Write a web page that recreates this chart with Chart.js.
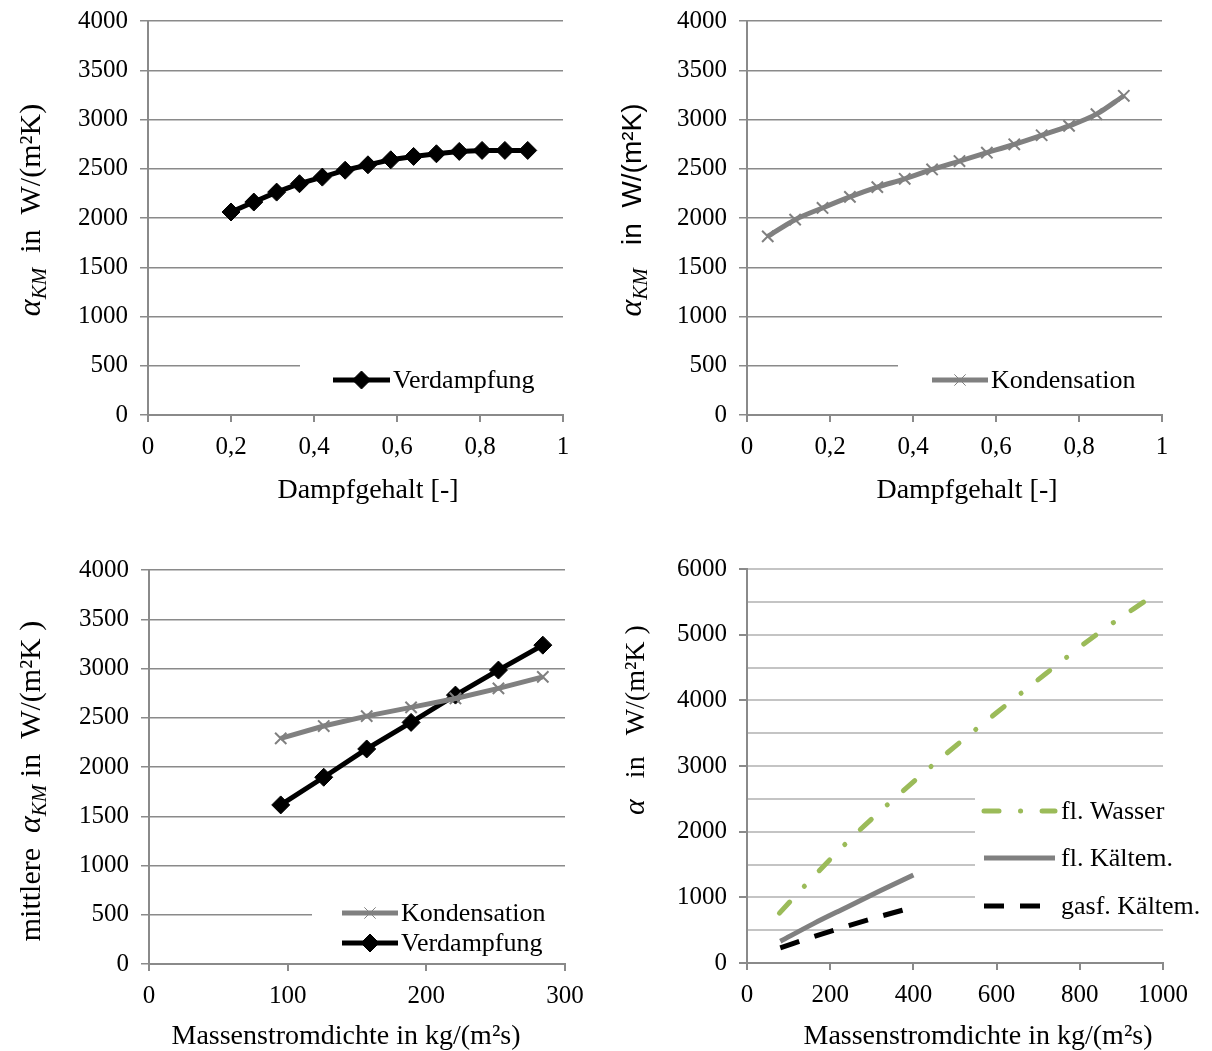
<!DOCTYPE html>
<html>
<head>
<meta charset="utf-8">
<script src="https://cdn.jsdelivr.net/npm/chart.js@4.4.1/dist/chart.umd.min.js"></script>
<style>
  html, body { margin: 0; padding: 0; background: #fff; }
  #wrap { position: relative; width: 1212px; height: 1051px; overflow: hidden; }
  canvas { position: absolute; }
</style>
</head>
<body>
<div id="wrap">
  <canvas id="c1" width="606" height="531" style="left:0;top:-6px"></canvas>
  <canvas id="c2" width="606" height="531" style="left:606px;top:-6px"></canvas>
  <canvas id="c3" width="606" height="526" style="left:0;top:525px"></canvas>
  <canvas id="c4" width="606" height="526" style="left:606px;top:525px"></canvas>
</div>
<script>
// oben links: Verdampfung ueber Dampfgehalt
const dampf1 = [0.2, 0.255, 0.31, 0.365, 0.42, 0.475, 0.53, 0.585, 0.64, 0.695, 0.75, 0.805, 0.86, 0.915];
const verdampfung1 = [2061, 2162, 2263, 2348, 2415, 2485, 2540, 2591, 2625, 2652, 2676, 2686, 2686, 2686];

// oben rechts: Kondensation ueber Dampfgehalt
const dampf2 = [0.05, 0.116, 0.182, 0.248, 0.314, 0.38, 0.446, 0.512, 0.578, 0.644, 0.71, 0.776, 0.842, 0.908];
const kondensation2 = [1813, 1983, 2102, 2214, 2313, 2398, 2493, 2578, 2663, 2748, 2840, 2935, 3054, 3241];

// unten links: mittlere alpha ueber Massenstromdichte
const massenstrom3 = [95, 126, 157, 189, 221, 252, 284];
const kondensation3 = [2291, 2416, 2517, 2605, 2696, 2798, 2915];
const verdampfung3 = [1615, 1896, 2183, 2453, 2730, 2984, 3237];

// unten rechts: Wasser / Kaeltemittel
const wasserX = [78, 145, 252, 364, 480, 599, 718, 838, 975];
const flWasser = [760, 1216, 1910, 2559, 3193, 3806, 4404, 4992, 5590];
const kaeltemX = [80, 160, 240, 320, 400];
const flKaeltem = [330, 600, 850, 1100, 1340];
const gasfKaeltem = [230, 400, 560, 710, 850];

const serif = 'Liberation Serif';
const gridGray = '#8a8a8a';

function pts(xs, ys) {
  return xs.map((x, i) => ({ x: x, y: ys[i] }));
}

// titles + legend drawn by hand (mixed fonts, rotated)
function makeDecor(cfg) {
  return {
    id: 'decor',
    afterDraw(chart) {
      const ctx = chart.ctx;
      // legend box
      const lg = cfg.legend;
      ctx.save();
      ctx.fillStyle = '#fff';
      ctx.fillRect(lg.box[0], lg.box[1], lg.box[2], lg.box[3]);
      lg.items.forEach((it, i) => {
        const ds = chart.data.datasets[it.ds];
        const y = lg.y[i];
        ctx.save();
        ctx.strokeStyle = ds.borderColor;
        ctx.lineWidth = ds.borderWidth;
        ctx.lineCap = ds.borderCapStyle || 'butt';
        ctx.setLineDash(ds.borderDash || []);
        ctx.beginPath();
        ctx.moveTo(lg.x1, y);
        ctx.lineTo(lg.x2, y);
        ctx.stroke();
        ctx.restore();
        if (ds.pointRadius > 0) {
          ctx.save();
          ctx.fillStyle = ds.pointBackgroundColor;
          ctx.strokeStyle = ds.pointBorderColor;
          Chart.helpers.drawPoint(ctx, {
            pointStyle: ds.pointStyle, radius: ds.pointRadius,
            borderWidth: ds.pointBorderWidth, rotation: 0
          }, (lg.x1 + lg.x2) / 2, y);
          ctx.restore();
        }
        ctx.fillStyle = '#000';
        ctx.font = '26px "' + serif + '"';
        ctx.textBaseline = 'middle';
        ctx.textAlign = 'left';
        ctx.fillText(ds.label, lg.tx, y + 1);
      });
      ctx.restore();

      // x title
      ctx.save();
      ctx.fillStyle = '#000';
      ctx.font = '28px "' + serif + '"';
      ctx.textAlign = 'center';
      ctx.textBaseline = 'alphabetic';
      ctx.fillText(cfg.xTitle, cfg.xTitlePos[0], cfg.xTitlePos[1]);
      ctx.restore();

      // y title (rotated, pieces with own fonts)
      ctx.save();
      ctx.fillStyle = '#000';
      ctx.translate(cfg.yTitlePos[0], cfg.yTitlePos[1]);
      ctx.rotate(-Math.PI / 2);
      ctx.textBaseline = 'alphabetic';
      ctx.textAlign = 'left';
      let total = 0;
      cfg.yTitle.forEach(p => { ctx.font = p.font; total += ctx.measureText(p.t).width; });
      let px = -total / 2;
      cfg.yTitle.forEach(p => {
        ctx.font = p.font;
        ctx.fillText(p.t, px, p.dy || 0);
        px += ctx.measureText(p.t).width;
      });
      ctx.restore();
    }
  };
}

function makeChart(id, datasets, sc, cfg) {
  return new Chart(document.getElementById(id), {
    type: 'line',
    data: { datasets: datasets },
    options: {
      responsive: false,
      animation: false,
      events: [],
      layout: { padding: { left: 0, top: sc.top, right: sc.right, bottom: 0 } },
      plugins: { legend: { display: false }, tooltip: { enabled: false } },
      scales: {
        x: {
          type: 'linear', min: sc.xMin, max: sc.xMax,
          afterFit: s => { s.height = sc.xHeight; },
          border: { color: gridGray, width: 2 },
          grid: { drawOnChartArea: false, color: gridGray, lineWidth: 2, tickLength: 7 },
          ticks: {
            stepSize: sc.xStep, autoSkip: false, maxRotation: 0, padding: 10, color: '#000',
            font: { family: serif, size: 25 },
            callback: sc.xFmt
          }
        },
        y: {
          min: sc.yMin, max: sc.yMax,
          afterFit: s => { s.width = sc.left; },
          border: { color: gridGray, width: 2 },
          grid: {
            color: sc.gridColor, lineWidth: sc.gridWidth, tickLength: 8,
            tickColor: c => (c.tick && c.tick.value % sc.yLabelEvery === 0) ? gridGray : 'rgba(0,0,0,0)'
          },
          ticks: {
            stepSize: sc.yStep, autoSkip: false, padding: 12, color: '#000',
            font: { family: serif, size: 25 },
            callback: v => (v % sc.yLabelEvery === 0 ? String(v) : '')
          }
        }
      }
    },
    plugins: [makeDecor(cfg)]
  });
}

const fmtComma = v => String(Math.round(v * 10) / 10).replace('.', ',');
const fmtInt = v => String(v);

const diamond = { pointStyle: 'rectRot', pointRadius: 9, pointBackgroundColor: '#000', pointBorderColor: '#000', pointBorderWidth: 1 };
const cross = { pointStyle: 'crossRot', pointRadius: 8, pointBackgroundColor: '#808080', pointBorderColor: '#808080', pointBorderWidth: 2 };

const alphaKM = [
  { t: 'α', font: 'italic 32px "' + serif + '"' },
  { t: 'KM', font: 'italic 21px "' + serif + '"', dy: 6 }
];

// 1 (canvas shifted up by 6px)
makeChart('c1', [
  Object.assign({ label: 'Verdampfung', data: pts(dampf1, verdampfung1), borderColor: '#000', borderWidth: 5, tension: 0 }, diamond)
], { top: 27, right: 43, left: 148, xHeight: 110, xMin: 0, xMax: 1, xStep: 0.2, xFmt: fmtComma,
     yMin: 0, yMax: 4000, yStep: 500, yLabelEvery: 500, gridColor: gridGray, gridWidth: 1.5 },
{
  xTitle: 'Dampfgehalt [-]', xTitlePos: [368, 504],
  yTitlePos: [40, 216],
  yTitle: alphaKM.concat([{ t: '  in  W/(m²K)', font: '30px "' + serif + '"' }]),
  legend: { box: [300, 358, 263, 50], x1: 333, x2: 390, tx: 393, y: [386], items: [{ ds: 0 }] }
});

// 2 (canvas shifted up by 6px)
makeChart('c2', [
  Object.assign({ label: 'Kondensation', data: pts(dampf2, kondensation2), borderColor: '#808080', borderWidth: 5, cubicInterpolationMode: 'monotone' }, cross)
], { top: 27, right: 50, left: 141, xHeight: 110, xMin: 0, xMax: 1, xStep: 0.2, xFmt: fmtComma,
     yMin: 0, yMax: 4000, yStep: 500, yLabelEvery: 500, gridColor: gridGray, gridWidth: 1.5 },
{
  xTitle: 'Dampfgehalt [-]', xTitlePos: [361, 504],
  yTitlePos: [35, 216],
  yTitle: alphaKM.concat([{ t: '   in  W/(m²K)', font: '28px "Liberation Sans"' }]),
  legend: { box: [292, 358, 264, 50], x1: 326, x2: 382, tx: 385, y: [386], items: [{ ds: 0 }] }
});

// 3
makeChart('c3', [
  Object.assign({ label: 'Kondensation', data: pts(massenstrom3, kondensation3), borderColor: '#808080', borderWidth: 5, tension: 0 }, cross),
  Object.assign({ label: 'Verdampfung', data: pts(massenstrom3, verdampfung3), borderColor: '#000', borderWidth: 5, tension: 0 }, diamond)
], { top: 45, right: 41, left: 149, xHeight: 87, xMin: 0, xMax: 300, xStep: 100, xFmt: fmtInt,
     yMin: 0, yMax: 4000, yStep: 500, yLabelEvery: 500, gridColor: gridGray, gridWidth: 1.5 },
{
  xTitle: 'Massenstromdichte in kg/(m²s)', xTitlePos: [346, 519],
  yTitlePos: [40, 256],
  yTitle: [{ t: 'mittlere  ', font: '30px "' + serif + '"' }].concat(alphaKM, [{ t: ' in  W/(m²K )', font: '30px "' + serif + '"' }]),
  legend: { box: [312, 372, 253, 62], x1: 342, x2: 398, tx: 401, y: [388, 418], items: [{ ds: 0 }, { ds: 1 }] }
});

// 4
makeChart('c4', [
  { label: 'fl. Wasser', data: pts(wasserX, flWasser), borderColor: '#9bbb59', borderWidth: 5, borderDash: [15, 21.5, 0.1, 21.5], borderCapStyle: 'round', pointRadius: 0, cubicInterpolationMode: 'monotone' },
  { label: 'fl. Kältem.', data: pts(kaeltemX, flKaeltem), borderColor: '#808080', borderWidth: 5, pointRadius: 0, cubicInterpolationMode: 'monotone' },
  { label: 'gasf. Kältem.', data: pts(kaeltemX, gasfKaeltem), borderColor: '#000', borderWidth: 5, borderDash: [20, 16], pointRadius: 0, cubicInterpolationMode: 'monotone' }
], { top: 44, right: 49, left: 141, xHeight: 88, xMin: 0, xMax: 1000, xStep: 200, xFmt: fmtInt,
     yMin: 0, yMax: 6000, yStep: 500, yLabelEvery: 1000, gridColor: '#c4c4c4', gridWidth: 2 },
{
  xTitle: 'Massenstromdichte in kg/(m²s)', xTitlePos: [372, 519],
  yTitlePos: [38, 195],
  yTitle: [{ t: 'α', font: 'italic 30px "' + serif + '"' }, { t: '   in   W/(m²K )', font: '28px "' + serif + '"' }],
  legend: { box: [369, 252, 237, 146], x1: 378, x2: 449, tx: 455, y: [286, 333, 381], items: [{ ds: 0 }, { ds: 1 }, { ds: 2 }] }
});
</script>
</body>
</html>
